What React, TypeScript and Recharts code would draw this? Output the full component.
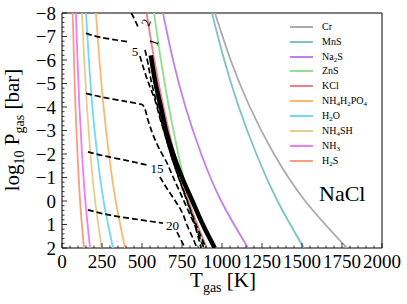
import {
  LineChart,
  Line,
  XAxis,
  YAxis,
  Legend,
  ReferenceArea,
  ReferenceDot,
} from "recharts";

// pressure levels (log10 bar) at which the condensation curves were read
const P_LEVELS = [-8, -6, -4, -2, 0, 2];

// condensation temperatures (K) at each P level
const CR_T = [956, 1054, 1174, 1325, 1520, 1781];
const MNS_T = [937, 1014, 1105, 1215, 1347, 1512];
const NA2S_T = [631, 694, 772, 870, 995, 1163];
const ZNS_T = [575, 618, 668, 727, 796, 881];
const KCL_T = [529, 577, 634, 703, 790, 905];
const NH4H2PO4_T = [212, 234, 260, 293, 336, 394];
const H2O_T = [150, 168, 190, 220, 260, 319];
const NH4SH_T = [125, 139, 156, 178, 207, 248];
const NH3_T = [87, 97, 109, 125, 146, 175];
const H2S_T = [67, 75, 84, 97, 113, 137];

const SPECIES = ["Cr", "MnS", "Na2S", "ZnS", "KCl", "NH4H2PO4", "H2O", "NH4SH", "NH3", "H2S"];
const SPECIES_T = [CR_T, MNS_T, NA2S_T, ZNS_T, KCL_T, NH4H2PO4_T, H2O_T, NH4SH_T, NH3_T, H2S_T];
const SPECIES_COLORS = [
  "#ababab",
  "#7cc4bf",
  "#c57fea",
  "#90e090",
  "#ee7f8b",
  "#fdb86e",
  "#70d8f8",
  "#ebcb8b",
  "#f57af5",
  "#f99d80",
];

// NaCl (thick black)
const NACL_P = [-6.2, -5, -4, -3, -2, -1, 0, 1, 2];
const NACL_T = [555, 585, 618, 650, 695, 750, 815, 880, 955];

// dashed contours, [T, logP]; split where the inline label sits
const C2_A: [number, number][] = [[433, -8], [456, -7.7], [475, -7.4]];
const C2_B: [number, number][] = [
  [519, -6.43], [537, -5.87], [560, -5.02], [592, -4.17], [619, -3.45],
  [650, -2.68], [687, -1.83], [731, -0.98], [781, -0.04], [831, 0.89], [900, 2],
];
const C5_A: [number, number][] = [[150, -7.14], [237, -6.97], [340, -6.85], [425, -6.76]];
const C5_B: [number, number][] = [
  [487, -6.17], [519, -5.45], [550, -4.85], [581, -4.3], [612, -3.53],
  [644, -2.81], [675, -2.09], [712, -1.32], [756, -0.47], [812, 0.6], [869, 2],
];
const C10: [number, number][] = [
  [150, -4.58], [237, -4.44], [404, -4.23], [506, -4.08], [537, -3.45],
  [569, -2.81], [612, -2.17], [656, -1.62], [694, -1.02], [737, -0.38],
  [787, 0.38], [837, 1.15], [887, 2],
];
const C15_A: [number, number][] = [[162, -2.09], [269, -1.91], [394, -1.74], [531, -1.53]];
const C15_B: [number, number][] = [
  [612, -1.02], [662, -0.47], [712, 0.04], [750, 0.47], [781, 1.02], [812, 1.49], [844, 2],
];
const C20_A: [number, number][] = [[162, 0.38], [300, 0.6], [456, 0.77], [631, 0.94]];
const C20_B: [number, number][] = [[719, 1.32], [744, 1.66], [769, 2]];

const CONTOUR_LABELS = [
  { text: "2", T: 525, p: -7.6, rot: -70 },
  { text: "1", T: 572, p: -6.75, rot: -70 },
  { text: "5", T: 456, p: -6.38, rot: 0 },
  { text: "15", T: 594, p: -1.38, rot: 0 },
  { text: "20", T: 690, p: 1.06, rot: 0 },
];

const X_MAJOR = [0, 250, 500, 750, 1000, 1250, 1500, 1750, 2000];
const Y_MAJOR = [-8, -7, -6, -5, -4, -3, -2, -1, 0, 1, 2];
const X_TICKS = Array.from({ length: 41 }, (_, i) => i * 50);
const Y_TICKS = Array.from({ length: 51 }, (_, i) => Math.round((-8 + i * 0.2) * 10) / 10);

const FONT = "'Liberation Serif', 'DejaVu Serif', serif";
const PLOT_LEFT = 62;
const PLOT_BOTTOM = 248;

const pairs = (arr: [number, number][]) => arr.map(([T, p]) => ({ T, p }));

const XTick = (props: any) => {
  const { x, payload } = props;
  const major = X_MAJOR.includes(payload.value);
  return (
    <g>
      <line x1={x} x2={x} y1={PLOT_BOTTOM} y2={PLOT_BOTTOM - (major ? 5 : 2.5)} stroke="#000" strokeWidth={0.8} />
      {major && (
        <text x={x} y={268} textAnchor="middle" fontSize={19} fontFamily={FONT} fill="#000">
          {payload.value}
        </text>
      )}
    </g>
  );
};

const YTick = (props: any) => {
  const { y, payload } = props;
  const major = Y_MAJOR.includes(payload.value);
  const v = payload.value;
  return (
    <g>
      <line x1={PLOT_LEFT} x2={PLOT_LEFT + (major ? 5 : 2.5)} y1={y} y2={y} stroke="#000" strokeWidth={0.8} />
      {major && (
        <text x={56} y={y + 6.5} textAnchor="end" fontSize={19} fontFamily={FONT} fill="#000">
          {v < 0 ? `\u2212${-v}` : v}
        </text>
      )}
    </g>
  );
};

// digits in a formula become subscripts
const formula = (name: string) =>
  name.split(/(\d+)/).map((part, i) =>
    /\d/.test(part) ? (
      <sub key={i} style={{ fontSize: "0.7em", verticalAlign: "-0.3em", lineHeight: 0 }}>
        {part}
      </sub>
    ) : (
      <span key={i}>{part}</span>
    )
  );

const LegendBox = () => (
  <div style={{ fontFamily: FONT, fontSize: 10, color: "#000" }}>
    {SPECIES.map((s, i) => (
      <div key={s} style={{ display: "flex", alignItems: "center", height: 14.85, lineHeight: 1 }}>
        <span style={{ display: "inline-block", width: 23, height: 2, background: SPECIES_COLORS[i] }} />
        <span style={{ marginLeft: 9 }}>{formula(s)}</span>
      </div>
    ))}
  </div>
);

const dashed = { stroke: "#000", strokeWidth: 1.7, strokeDasharray: "6 3" };

export default function App() {
  return (
    <div style={{ position: "relative", width: 407, height: 304, background: "#fff" }}>
      <style>{"body{margin:0}"}</style>
      <LineChart width={407} height={304} margin={{ top: 13, right: 25, bottom: 0, left: 0 }}>
        <XAxis
          dataKey="T"
          type="number"
          domain={[0, 2000]}
          allowDataOverflow
          ticks={X_TICKS}
          interval={0}
          height={56}
          axisLine={false}
          tickLine={false}
          tick={XTick}
          label={{
            content: () => (
              <text x={223} y={287} textAnchor="middle" fontSize={21} fontFamily={FONT} fill="#000">
                <tspan>T</tspan>
                <tspan fontSize={14} dy={5}>gas</tspan>
                <tspan dy={-5}> [K]</tspan>
              </text>
            ),
          }}
        />
        <YAxis
          type="number"
          domain={[-8, 2]}
          reversed
          allowDataOverflow
          ticks={Y_TICKS}
          interval={0}
          width={62}
          axisLine={false}
          tickLine={false}
          tick={YTick}
          label={{
            content: () => (
              <text
                transform="translate(19,130) rotate(-90)"
                textAnchor="middle"
                fontSize={21}
                fontFamily={FONT}
                fill="#000"
              >
                <tspan>log</tspan>
                <tspan fontSize={14} dy={5}>10</tspan>
                <tspan dy={-5}> P</tspan>
                <tspan fontSize={14} dy={5}>gas</tspan>
                <tspan dy={-5}> [bar]</tspan>
              </text>
            ),
          }}
        />
        <Legend
          layout="horizontal"
          align="center"
          verticalAlign="middle"
          wrapperStyle={{ top: 19.5, left: 290, width: 100 }}
          content={LegendBox}
        />
        {SPECIES.map((s, i) => (
          <Line
            key={s}
            name={s}
            data={SPECIES_T[i].map((T, j) => ({ T, p: P_LEVELS[j] }))}
            dataKey="p"
            type="natural"
            stroke={SPECIES_COLORS[i]}
            strokeWidth={1.8}
            dot={false}
            activeDot={false}
            isAnimationActive={false}
          />
        ))}
        <Line
          name="NaCl"
          data={NACL_T.map((T, j) => ({ T, p: NACL_P[j] }))}
          dataKey="p"
          type="natural"
          stroke="#000"
          strokeWidth={4.5}
          dot={false}
          activeDot={false}
          legendType="none"
          isAnimationActive={false}
        />
        {[C2_A, C2_B, C5_A, C5_B, C10, C15_A, C15_B, C20_A, C20_B].map((c, i) => (
          <Line
            key={"c" + i}
            data={pairs(c)}
            dataKey="p"
            type="monotoneY"
            {...dashed}
            dot={false}
            activeDot={false}
            legendType="none"
            isAnimationActive={false}
          />
        ))}
        {CONTOUR_LABELS.map((l) => (
          <ReferenceDot
            key={l.text}
            x={l.T}
            y={l.p}
            r={0}
            ifOverflow="visible"
            shape={(props: any) => (
              <text
                transform={`translate(${props.cx},${props.cy}) rotate(${l.rot})`}
                textAnchor="middle"
                dominantBaseline="central"
                fontSize={13}
                fontFamily={FONT}
                fill="#000"
              >
                {l.text}
              </text>
            )}
          />
        ))}
        <ReferenceArea x1={0} x2={2000} y1={-8} y2={2} fill="none" stroke="#000" strokeWidth={1} />
      </LineChart>
      <div
        style={{
          position: "absolute",
          left: 319,
          top: 181,
          fontFamily: FONT,
          fontSize: 22,
          lineHeight: "26px",
          color: "#000",
        }}
      >
        NaCl
      </div>
    </div>
  );
}
